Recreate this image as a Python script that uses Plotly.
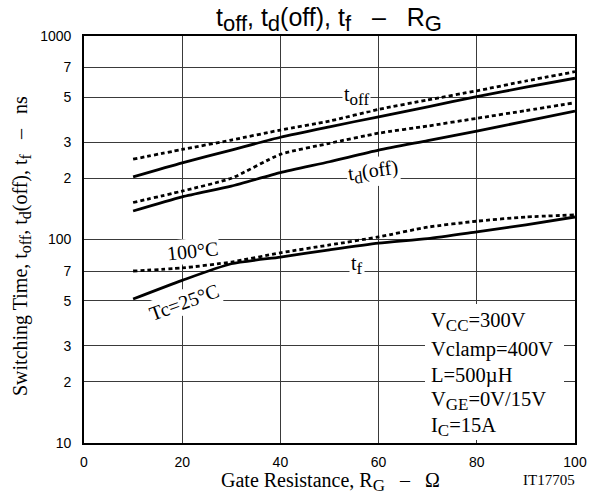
import plotly.graph_objects as go

# ---------------- data ----------------
rg = [10, 20, 30, 40, 50, 60, 70, 80, 90, 100]

toff_25 = [203, 238, 275, 318, 358, 401, 449, 503, 560, 620]
toff_100 = [248, 277, 308, 345, 382, 436, 485, 538, 601, 668]

tdoff_25 = [138, 162, 183, 213, 241, 275, 306, 341, 382, 428]
tdoff_100 = [152, 173, 200, 262, 297, 333, 361, 394, 430, 470]

tf_25 = [51, 63, 76, 82, 89, 96, 101, 109, 118, 129]
tf_100 = [70, 72.5, 77.5, 86, 94, 103, 115, 123, 129, 132]

x_ticks = [0, 20, 40, 60, 80, 100]
y_ticks = [10, 20, 30, 50, 70, 100, 200, 300, 500, 700, 1000]
y_ticktext = ["10", "2", "3", "5", "7", "100", "2", "3", "5", "7", "1000"]

# ---------------- layout geometry ----------------
W, H = 598, 495
ML, MR, MT, MB = 84, 23, 36, 52
PW, PH = W - ML - MR, H - MT - MB


def px(X):
    return (X - ML) / PW


def py(Y):
    return (H - MB - Y) / PH


def sub(t, size):
    return f"<sub><span style='font-size:{size}px'>{t}</span></sub>"


NB = "\u00a0"
SERIF = "Liberation Serif, Times New Roman, serif"
SANS = "Liberation Sans, Arial, Helvetica, sans-serif"

fig = go.Figure()

solid = dict(color="black", width=2.8)
dotted = dict(color="black", width=2.8, dash="4px,3px")

series = [
    ("toff 25°C", toff_25, solid),
    ("toff 100°C", toff_100, dotted),
    ("td(off) 25°C", tdoff_25, solid),
    ("td(off) 100°C", tdoff_100, dotted),
    ("tf 25°C", tf_25, solid),
    ("tf 100°C", tf_100, dotted),
]
for name, ys, ln in series:
    fig.add_trace(go.Scatter(x=rg, y=ys, mode="lines", name=name,
                             line=dict(**ln, shape="spline", smoothing=0.6),
                             showlegend=False, hoverinfo="skip"))

grid = "#3a3a3a"
fig.update_xaxes(range=[0, 100], tickvals=x_ticks, showgrid=True, gridcolor=grid,
                 gridwidth=1, zeroline=False, showline=True, linecolor="black",
                 linewidth=1.6, mirror=True, ticks="", ticklabelstandoff=5,
                 tickfont=dict(family=SANS, size=14, color="black"))
fig.update_yaxes(type="log", range=[1, 3], tickvals=y_ticks, ticktext=y_ticktext,
                 showgrid=True, gridcolor=grid, gridwidth=1, zeroline=False,
                 showline=True, linecolor="black", linewidth=1.6, mirror=True,
                 ticks="", ticklabelstandoff=8,
                 tickfont=dict(family=SANS, size=14, color="black"))

# white box behind condition text
fig.add_shape(type="rect", xref="paper", yref="paper",
              x0=px(425), x1=px(564), y0=py(440), y1=py(304),
              fillcolor="white", line=dict(width=0), layer="above")

ann = []
# title
title_txt = ("t" + sub("off", 22) + ", t" + sub("d", 22) + "(off), t" + sub("f", 22)
             + NB * 3 + "–" + NB * 3 + "R" + sub("G", 22))
ann.append(dict(text=title_txt, x=px(329), y=py(19), xref="paper", yref="paper",
                xanchor="center", yanchor="middle", showarrow=False,
                font=dict(family=SANS, size=25, color="black")))
# y title
ytitle = ("Switching Time, t" + sub("off", 16) + ", t" + sub("d", 16) + "(off), t"
          + sub("f", 16) + NB * 3 + "–" + NB * 3 + "ns")
ann.append(dict(text=ytitle, x=px(22), y=py(246), xref="paper", yref="paper",
                textangle=-90, xanchor="center", yanchor="middle", showarrow=False,
                font=dict(family=SERIF, size=20, color="black")))
# x title
xtitle = "Gate Resistance, R" + sub("G", 17) + NB * 3 + "–" + NB * 3 + "Ω"
ann.append(dict(text=xtitle, x=px(330), y=py(482), xref="paper", yref="paper",
                xanchor="center", yanchor="middle", showarrow=False,
                font=dict(family=SERIF, size=20, color="black")))
ann.append(dict(text="IT17705", x=px(577), y=py(480), xref="paper", yref="paper",
                xanchor="right", yanchor="middle", showarrow=False,
                font=dict(family=SERIF, size=15, color="black")))

# curve labels (white background hides gridlines)
labels = [
    ("t" + sub("off", 17), 356, 96, 0),
    ("t" + sub("d", 17) + "(off)", 373, 172, -8),
    ("t" + sub("f", 17), 357, 265, 0),
    ("100°C", 192, 251, -6),
    ("Tc=25°C", 184, 302, -20),
]
for t, X, Y, ang in labels:
    ann.append(dict(text=t, x=px(X), y=py(Y), xref="paper", yref="paper",
                    xanchor="center", yanchor="middle", showarrow=False,
                    textangle=ang, bgcolor="white", borderpad=1,
                    font=dict(family=SERIF, size=20, color="black")))

# test conditions
conds = [
    ("V" + sub("CC", 17) + "=300V", 322),
    ("Vclamp=400V", 349),
    ("L=500µH", 375),
    ("V" + sub("GE", 17) + "=0V/15V", 401),
    ("I" + sub("C", 17) + "=15A", 427),
]
for t, Y in conds:
    ann.append(dict(text=t, x=px(429), y=py(Y), xref="paper", yref="paper",
                    xanchor="left", yanchor="middle", showarrow=False,
                    font=dict(family=SERIF, size=20.5, color="black")))

fig.update_layout(width=W, height=H, margin=dict(l=ML, r=MR, t=MT, b=MB),
                  paper_bgcolor="white", plot_bgcolor="white",
                  annotations=ann, showlegend=False)

fig.write_html("out.html", config={"displayModeBar": False},
               post_script="document.body.style.margin='0';")
